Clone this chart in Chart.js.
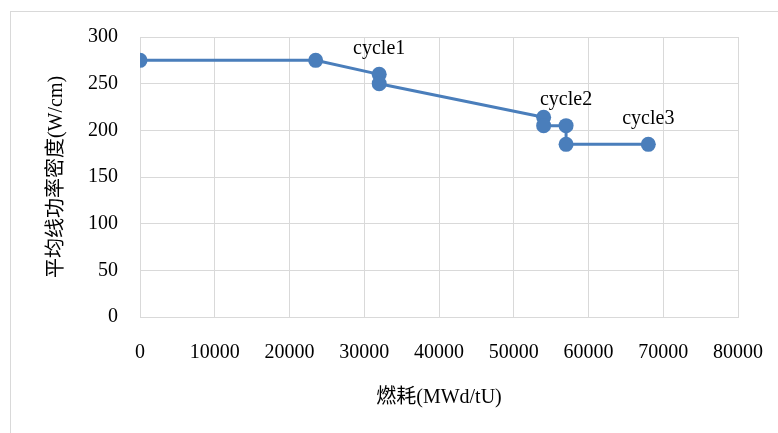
<!DOCTYPE html>
<html>
<head>
    <title>燃耗 vs 平均线功率密度</title>
    <script src="https://cdn.jsdelivr.net/npm/chart.js"></script>
    <style>
        body { margin: 0; width: 778px; height: 433px; overflow: hidden; background: #fff; position: relative; }
        #frame { position: absolute; left: 10px; top: 11px; width: 820px; height: 480px; border: 1px solid #d9d9d9; }
        #wrap { position: absolute; left: 0; top: 0; width: 778px; height: 433px; }
    </style>
</head>
<body>
    <div id="frame"></div>
    <div id="wrap"><canvas id="chart" width="778" height="433"></canvas></div>

    <script>
        // burnup (MWd/tU) and average linear power (W/cm)
        const burnup = [0, 23500, 32000, 32000, 54000, 54000, 57000, 57000, 68000];
        const power = [275, 275, 260, 250, 214, 205, 205, 185, 185];

        // which point each cycle label sits above
        const cycleNames = ['cycle1', 'cycle2', 'cycle3'];
        const cycleAt = [2, 6, 8];

        const xTicks = [0, 10000, 20000, 30000, 40000, 50000, 60000, 70000, 80000];
        const yTicks = [0, 50, 100, 150, 200, 250, 300];

        const serif = "'Liberation Serif', 'Noto Sans CJK SC', serif";
        const blue = '#4a7ebb';
        const grid = '#d9d9d9';

        const cycleLabels = {
            id: 'cycleLabels',
            afterDatasetsDraw(chart) {
                const ctx = chart.ctx;
                const xs = chart.scales.x, ys = chart.scales.y;
                ctx.save();
                ctx.font = '20px ' + serif;
                ctx.fillStyle = '#000';
                ctx.textAlign = 'center';
                ctx.textBaseline = 'middle';
                cycleNames.forEach((name, i) => {
                    const k = cycleAt[i];
                    ctx.fillText(name, xs.getPixelForValue(burnup[k]), ys.getPixelForValue(power[k]) - 26);
                });
                ctx.restore();
            }
        };

        new Chart(document.getElementById('chart'), {
            type: 'scatter',
            data: {
                datasets: [{
                    data: burnup.map((b, i) => ({ x: b, y: power[i] })),
                    showLine: true,
                    borderColor: blue,
                    backgroundColor: blue,
                    borderWidth: 3,
                    pointRadius: 7.5,
                    pointHoverRadius: 7.5,
                    pointBorderWidth: 0,
                    tension: 0
                }]
            },
            options: {
                responsive: false,
                animation: false,
                layout: { padding: { left: 0, right: 40, top: 37, bottom: 0 } },
                plugins: { legend: { display: false }, tooltip: { enabled: false } },
                scales: {
                    x: {
                        type: 'linear',
                        min: 0, max: 80000,
                        afterBuildTicks: (s) => { s.ticks = xTicks.map(v => ({ value: v })); },
                        afterFit: (s) => { s.height = 116; s.paddingLeft = 0; s.paddingRight = 0; },
                        grid: { color: grid, lineWidth: 1, drawTicks: false },
                        border: { color: grid },
                        ticks: { padding: 24, color: '#000', maxRotation: 0, callback: (v) => String(v), font: { family: serif, size: 20 } },
                        title: { display: true, text: '燃耗(MWd/tU)', color: '#000', padding: { top: 0, bottom: 23 }, font: { family: serif, size: 20 } }
                    },
                    y: {
                        min: 0, max: 300,
                        afterBuildTicks: (s) => { s.ticks = yTicks.map(v => ({ value: v })); },
                        afterFit: (s) => { s.width = 140; s.paddingTop = 0; s.paddingBottom = 0; },
                        grid: { color: grid, lineWidth: 1, drawTicks: false },
                        border: { color: grid },
                        ticks: { padding: 22, color: '#000', callback: (v) => String(v), font: { family: serif, size: 20 } },
                        title: { display: true, text: '平均线功率密度(W/cm)', color: '#000', padding: { top: 45, bottom: 0 }, font: { family: serif, size: 20 } }
                    }
                }
            },
            plugins: [cycleLabels]
        });
    </script>
</body>
</html>
